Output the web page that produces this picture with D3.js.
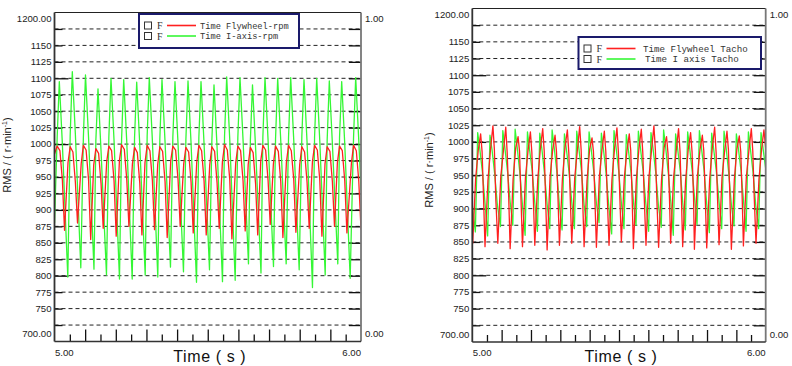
<!DOCTYPE html>
<html><head><meta charset="utf-8">
<script src="https://cdn.jsdelivr.net/npm/d3@7"></script>
<style>body{margin:0;background:#fff}svg{display:block}</style>
</head><body>
<svg id="chart" width="792" height="366"></svg>
<script>
// ---------- data ----------
const yGridValues = [725,750,775,800,825,850,875,900,925,950,975,1000,1025,1050,1075,1100,1125,1150,1175];
const yTickLabels = [750,775,800,825,850,875,900,925,950,975,1000,1025,1050,1075,1100,1125,1150];
const yEndLabels = ["1200.00","700.00"];
const rightEndLabels = ["1.00","0.00"];
const xMajorTicks = [5.1,5.2,5.3,5.4,5.5,5.6,5.7,5.8,5.9];
const xMinorTicks = [5.05,5.15,5.25,5.35,5.45,5.55,5.65,5.75,5.85,5.95];
const xEndLabels = ["5.00","6.00"];
const leftLegendNames = ["Time Flywheel-rpm","Time I-axis-rpm"];
const rightLegendNames = ["Time Flywheel Tacho","Time I axis Tacho"];

// Left panel: I-axis rpm (green)
const leftGreen = [
[5.0000,880],
[5.0087,1010],[5.0157,1095],[5.0257,1000],[5.0434,798],
[5.0511,1012],[5.0581,1110],[5.0681,1015],[5.0858,812],
[5.0941,1008],[5.1011,1105],[5.1111,1010],[5.1288,810],
[5.1349,1005],[5.1419,1084],[5.1519,989],[5.1696,801],
[5.1773,1010],[5.1843,1100],[5.1943,1005],[5.2120,795],
[5.2188,1006],[5.2258,1098],[5.2358,1003],[5.2535,795],
[5.2612,1010],[5.2682,1094],[5.2782,999],[5.2959,801],
[5.3023,1012],[5.3093,1101],[5.3193,1006],[5.3370,798],
[5.3437,1008],[5.3507,1098],[5.3607,1003],[5.3784,813],
[5.3861,1010],[5.3931,1095],[5.4031,1000],[5.4208,806],
[5.4286,1006],[5.4356,1096],[5.4456,1001],[5.4633,790],
[5.4710,1010],[5.4780,1095],[5.4880,1000],[5.5057,809],
[5.5134,1005],[5.5204,1090],[5.5304,995],[5.5481,791],
[5.5548,1012],[5.5618,1102],[5.5718,1007],[5.5895,793],
[5.5982,1010],[5.6052,1101],[5.6152,1006],[5.6329,818],
[5.6390,1005],[5.6460,1090],[5.6560,995],[5.6737,804],
[5.6798,1010],[5.6868,1101],[5.6968,1006],[5.7145,814],
[5.7212,1008],[5.7282,1100],[5.7382,1005],[5.7559,818],
[5.7636,1010],[5.7706,1101],[5.7806,1006],[5.7983,809],
[5.8070,1012],[5.8140,1098],[5.8240,1003],[5.8417,782],
[5.8485,1010],[5.8555,1100],[5.8655,1005],[5.8832,801],
[5.8896,1006],[5.8966,1096],[5.9066,1001],[5.9243,818],
[5.9300,1010],[5.9370,1095],[5.9470,1000],[5.9647,796],
[5.9757,1010],[5.9827,1101],[5.9927,1006],[6.0000,930]
];
// Left panel: Flywheel rpm (red)
const leftRed = [
[5.0000,985],[5.0087,997],[5.0177,990],[5.0257,945],[5.0327,869],
[5.0441,972],[5.0511,996],[5.0601,988],[5.0681,942],[5.0751,880],
[5.0871,970],[5.0941,998],[5.1031,991],[5.1111,946],[5.1181,855],
[5.1279,968],[5.1349,993],[5.1439,986],[5.1519,940],[5.1589,872],
[5.1703,973],[5.1773,997],[5.1863,990],[5.1943,944],[5.2013,860],
[5.2118,975],[5.2188,999],[5.2278,992],[5.2358,946],[5.2428,875],
[5.2542,970],[5.2612,995],[5.2702,987],[5.2782,941],[5.2852,862],
[5.2953,972],[5.3023,998],[5.3113,990],[5.3193,945],[5.3263,870],
[5.3367,969],[5.3437,996],[5.3527,989],[5.3607,943],[5.3677,858],
[5.3791,974],[5.3861,997],[5.3951,991],[5.4031,946],[5.4101,875],
[5.4216,970],[5.4286,995],[5.4376,988],[5.4456,942],[5.4526,865],
[5.4640,972],[5.4710,998],[5.4800,990],[5.4880,944],[5.4950,862],
[5.5064,968],[5.5134,996],[5.5224,989],[5.5304,941],[5.5374,872],
[5.5478,973],[5.5548,999],[5.5638,991],[5.5718,946],[5.5788,856],
[5.5912,971],[5.5982,997],[5.6072,990],[5.6152,944],[5.6222,868],
[5.6320,969],[5.6390,995],[5.6480,987],[5.6560,940],[5.6630,862],
[5.6728,974],[5.6798,998],[5.6888,991],[5.6968,945],[5.7038,878],
[5.7142,970],[5.7212,997],[5.7302,989],[5.7382,943],[5.7452,858],
[5.7566,972],[5.7636,998],[5.7726,990],[5.7806,946],[5.7876,866],
[5.8000,969],[5.8070,996],[5.8160,988],[5.8240,942],[5.8310,872],
[5.8415,973],[5.8485,998],[5.8575,991],[5.8655,945],[5.8725,860],
[5.8826,970],[5.8896,996],[5.8986,989],[5.9066,943],[5.9136,875],
[5.9230,972],[5.9300,997],[5.9390,990],[5.9470,944],[5.9540,865],
[5.9687,971],[5.9757,998],[5.9847,990],[5.9927,944],[6.0000,870]
];
// Right panel: Flywheel Tacho (red)
const rightRed = [
[5.0000,860],
[5.0014,848],[5.0114,945],[5.0204,988],[5.0284,1012],[5.0334,985],[5.0384,915],
[5.0433,843],[5.0533,942],[5.0623,990],[5.0703,1024],[5.0753,988],[5.0803,912],
[5.0870,848],[5.0970,948],[5.1060,986],[5.1140,1022],[5.1190,983],[5.1240,918],
[5.1290,840],[5.1390,944],[5.1480,991],[5.1560,1008],[5.1610,986],[5.1660,914],
[5.1710,843],[5.1810,946],[5.1900,987],[5.1980,1015],[5.2030,984],[5.2080,916],
[5.2130,845],[5.2230,943],[5.2320,990],[5.2400,1020],[5.2450,987],[5.2500,913],
[5.2550,838],[5.2650,947],[5.2740,988],[5.2820,1010],[5.2870,985],[5.2920,917],
[5.2970,845],[5.3070,944],[5.3160,992],[5.3240,1018],[5.3290,983],[5.3340,914],
[5.3390,848],[5.3490,946],[5.3580,987],[5.3660,1023],[5.3710,988],[5.3760,916],
[5.3810,843],[5.3910,942],[5.4000,989],[5.4080,1006],[5.4130,985],[5.4180,912],
[5.4230,842],[5.4330,947],[5.4420,988],[5.4500,1016],[5.4550,986],[5.4600,918],
[5.4660,845],[5.4760,944],[5.4850,991],[5.4930,1021],[5.4980,984],[5.5030,915],
[5.5080,850],[5.5180,946],[5.5270,986],[5.5350,1012],[5.5400,987],[5.5450,913],
[5.5490,840],[5.5590,943],[5.5680,990],[5.5760,1019],[5.5810,985],[5.5860,917],
[5.5920,845],[5.6020,947],[5.6110,988],[5.6190,1024],[5.6240,988],[5.6290,914],
[5.6350,842],[5.6450,944],[5.6540,992],[5.6620,1008],[5.6670,983],[5.6720,916],
[5.6760,848],[5.6860,946],[5.6950,987],[5.7030,1020],[5.7080,986],[5.7130,912],
[5.7170,843],[5.7270,942],[5.7360,989],[5.7440,1014],[5.7490,985],[5.7540,918],
[5.7570,839],[5.7670,947],[5.7760,988],[5.7840,1010],[5.7890,987],[5.7940,915],
[5.7990,841],[5.8090,944],[5.8180,991],[5.8260,1022],[5.8310,984],[5.8360,913],
[5.8410,846],[5.8510,946],[5.8600,986],[5.8680,1016],[5.8730,988],[5.8780,917],
[5.8830,839],[5.8930,943],[5.9020,990],[5.9100,1009],[5.9150,985],[5.9200,914],
[5.9240,844],[5.9340,947],[5.9430,988],[5.9510,1020],[5.9560,986],[5.9610,916],
[5.9670,848],[5.9770,944],[5.9860,989],[5.9940,1018],[6.0000,990]
];
// Right panel: I axis Tacho (green)
const rightGreen = [
[5.0000,905],
[5.0104,865],[5.0184,1014],[5.0254,990],[5.0344,955],[5.0434,908],
[5.0523,859],[5.0603,1010],[5.0673,988],[5.0763,952],[5.0853,906],
[5.0960,873],[5.1040,1017],[5.1110,991],[5.1200,956],[5.1290,910],
[5.1380,875],[5.1460,1019],[5.1530,992],[5.1620,954],[5.1710,905],
[5.1800,860],[5.1880,1015],[5.1950,989],[5.2040,957],[5.2130,909],
[5.2220,866],[5.2300,1013],[5.2370,990],[5.2460,953],[5.2550,907],
[5.2640,870],[5.2720,1018],[5.2790,992],[5.2880,956],[5.2970,904],
[5.3060,868],[5.3140,1012],[5.3210,988],[5.3300,954],[5.3390,910],
[5.3480,870],[5.3560,1016],[5.3630,991],[5.3720,957],[5.3810,906],
[5.3900,873],[5.3980,1015],[5.4050,990],[5.4140,955],[5.4230,908],
[5.4320,879],[5.4400,1013],[5.4470,989],[5.4560,953],[5.4650,905],
[5.4750,862],[5.4830,1017],[5.4900,992],[5.4990,956],[5.5080,909],
[5.5170,870],[5.5250,1011],[5.5320,988],[5.5410,954],[5.5500,907],
[5.5580,875],[5.5660,1016],[5.5730,991],[5.5820,957],[5.5910,910],
[5.6010,866],[5.6090,1014],[5.6160,990],[5.6250,955],[5.6340,906],
[5.6440,872],[5.6520,1018],[5.6590,992],[5.6680,953],[5.6770,908],
[5.6850,860],[5.6930,1012],[5.7000,989],[5.7090,956],[5.7180,905],
[5.7260,868],[5.7340,1015],[5.7410,990],[5.7500,954],[5.7590,909],
[5.7660,876],[5.7740,1017],[5.7810,991],[5.7900,957],[5.7990,907],
[5.8080,864],[5.8160,1013],[5.8230,988],[5.8320,955],[5.8410,910],
[5.8500,870],[5.8580,1016],[5.8650,992],[5.8740,953],[5.8830,906],
[5.8920,874],[5.9000,1012],[5.9070,990],[5.9160,956],[5.9250,908],
[5.9330,866],[5.9410,1015],[5.9480,989],[5.9570,954],[5.9660,905],
[5.9760,870],[5.9840,1014],[5.9910,990],[6.0000,960]
];

// ---------- layout ----------
const panels = [
  {x0:54.5, x1:361, y0:12.5, y1:341.5, red:leftRed, green:leftGreen, titleY:155, titleX:11,
   legend:{x:139, y:14, w:160, h:34, names:leftLegendNames, fs:8.7, tx:[200,200]}},
  {x0:472.3, x1:765.7, y0:8.5, y1:342, red:rightRed, green:rightGreen, titleY:170, titleX:433,
   legend:{x:578.5, y:37, w:182.5, h:32, names:rightLegendNames, fs:9.2, tx:[643,645]}}
];
const RED = "#ff2020", GREEN = "#35f735";
const svg = d3.select("#chart");
const sans = "'Liberation Sans', Arial, sans-serif";

panels.forEach((p, pi) => {
  const x = d3.scaleLinear().domain([5, 6]).range([p.x0, p.x1]);
  const y = d3.scaleLinear().domain([700, 1200]).range([p.y1, p.y0]);
  const g = svg.append("g");

  // dashed grid
  g.selectAll(".grid").data(yGridValues).join("line")
    .attr("x1", p.x0).attr("x2", p.x1)
    .attr("y1", d => y(d)).attr("y2", d => y(d))
    .attr("stroke", "#222").attr("stroke-width", 1).attr("stroke-dasharray", "4,3");

  // left axis ticks (inward)
  const leftAxis = d3.axisLeft(y).tickValues(yGridValues)
    .tickSizeInner(-8).tickSizeOuter(0).tickFormat("");
  const la = g.append("g").attr("transform", `translate(${p.x0},0)`).call(leftAxis);
  la.select(".domain").remove();
  la.selectAll(".tick line").attr("x2", d => d % 100 === 0 ? 14 : 8)
    .attr("stroke", "#111").attr("stroke-width", 1.3);

  // right axis ticks (inward)
  const rightAxis = d3.axisRight(y).tickValues(yGridValues)
    .tickSizeInner(-12).tickSizeOuter(0).tickFormat("");
  const ra = g.append("g").attr("transform", `translate(${p.x1},0)`).call(rightAxis);
  ra.select(".domain").remove();
  ra.selectAll(".tick line").attr("stroke", "#111").attr("stroke-width", 1.3);

  // bottom ticks (inward)
  const bMaj = d3.axisBottom(x).tickValues(xMajorTicks).tickSizeInner(-12).tickSizeOuter(0).tickFormat("");
  const bMin = d3.axisBottom(x).tickValues(xMinorTicks).tickSizeInner(-7).tickSizeOuter(0).tickFormat("");
  [bMaj, bMin].forEach(ax => {
    const a = g.append("g").attr("transform", `translate(0,${p.y1})`).call(ax);
    a.select(".domain").remove();
    a.selectAll(".tick line").attr("stroke", "#111").attr("stroke-width", 1.3);
  });

  // data lines
  const clipId = "clip" + pi;
  svg.append("clipPath").attr("id", clipId).append("rect")
    .attr("x", p.x0).attr("y", p.y0).attr("width", p.x1 - p.x0).attr("height", p.y1 - p.y0);
  const line = d3.line().x(d => x(d[0])).y(d => y(d[1]));
  const dg = g.append("g").attr("clip-path", `url(#${clipId})`);
  dg.append("path").datum(p.green).attr("d", line).attr("fill", "none")
    .attr("stroke", GREEN).attr("stroke-width", 1.3).attr("stroke-linejoin", "round");
  dg.append("path").datum(p.red).attr("d", line).attr("fill", "none")
    .attr("stroke", RED).attr("stroke-width", 1.3).attr("stroke-linejoin", "round");

  // frame
  g.append("line").attr("x1", p.x0).attr("x2", p.x1).attr("y1", p.y0).attr("y2", p.y0)
    .attr("stroke", "#222").attr("stroke-width", 1);
  g.append("line").attr("x1", p.x1).attr("x2", p.x1).attr("y1", p.y0).attr("y2", p.y1)
    .attr("stroke", "#777").attr("stroke-width", 1.8);
  g.append("line").attr("x1", p.x0).attr("x2", p.x1).attr("y1", p.y1).attr("y2", p.y1)
    .attr("stroke", "#333").attr("stroke-width", 1.6);
  g.append("line").attr("x1", p.x0).attr("x2", p.x0).attr("y1", p.y0).attr("y2", p.y1)
    .attr("stroke", "#333").attr("stroke-width", 1.8);

  // y tick labels
  const lbl = g.append("g").attr("font-family", sans).attr("font-size", 9.6).attr("fill", "#222");
  lbl.selectAll(".yl").data(yTickLabels).join("text")
    .attr("x", p.x0 - 3).attr("y", d => y(d)).attr("dy", "0.35em")
    .attr("text-anchor", "end").text(d => d);
  lbl.append("text").attr("x", p.x0 - 3).attr("y", p.y0 + 6).attr("dy", "0.35em")
    .attr("text-anchor", "end").text(yEndLabels[0]);
  lbl.append("text").attr("x", p.x0 - 3).attr("y", p.y1 - 7.5).attr("dy", "0.35em")
    .attr("text-anchor", "end").text(yEndLabels[1]);
  lbl.append("text").attr("x", p.x1 + 4).attr("y", p.y0 + 6).attr("dy", "0.35em")
    .text(rightEndLabels[0]);
  lbl.append("text").attr("x", p.x1 + 4).attr("y", p.y1 - 7.5).attr("dy", "0.35em")
    .text(rightEndLabels[1]);
  lbl.append("text").attr("x", x(5) + 0.5).attr("y", p.y1 + 11).attr("dy", "0.35em")
    .text(xEndLabels[0]);
  lbl.append("text").attr("x", x(6)).attr("y", p.y1 + 11).attr("dy", "0.35em")
    .attr("text-anchor", "end").text(xEndLabels[1]);

  // x title
  g.append("text").attr("x", (p.x0 + p.x1) / 2 + 2).attr("y", 362)
    .attr("text-anchor", "middle").attr("font-family", sans).attr("font-size", 16)
    .attr("letter-spacing", 0.6).attr("fill", "#111").text("Time ( s )");

  // y title
  const yt = g.append("text").attr("transform", `translate(${p.titleX},${p.titleY}) rotate(-90)`)
    .attr("text-anchor", "middle").attr("font-family", sans).attr("font-size", 11).attr("fill", "#222");
  yt.append("tspan").text("RMS / ( r·min");
  yt.append("tspan").attr("font-size", 7).attr("dy", -4).text("-1");
  yt.append("tspan").attr("dy", 4).text(")");

  // legend
  const L = p.legend;
  const lg = g.append("g");
  lg.append("rect").attr("x", L.x).attr("y", L.y).attr("width", L.w).attr("height", L.h)
    .attr("fill", "#fff").attr("stroke", "#1a1a6b").attr("stroke-width", 2);
  const rows = [{c: RED, n: L.names[0]}, {c: GREEN, n: L.names[1]}];
  rows.forEach((r, i) => {
    const cy = L.y + 11.5 + i * 10.5;
    lg.append("rect").attr("x", L.x + 5.5).attr("y", cy - 3.5).attr("width", 7).attr("height", 7)
      .attr("fill", "#fff").attr("stroke", "#333").attr("stroke-width", 1);
    lg.append("text").attr("x", L.x + 18).attr("y", cy).attr("dy", "0.35em")
      .attr("font-family", "'Liberation Serif', serif").attr("font-size", 10).attr("fill", "#333").text("F");
    lg.append("line").attr("x1", L.x + 28).attr("x2", L.x + 57).attr("y1", cy).attr("y2", cy)
      .attr("stroke", r.c).attr("stroke-width", 1.6);
    lg.append("text").attr("x", L.tx[i]).attr("y", cy).attr("dy", "0.35em")
      .attr("font-family", "'Liberation Mono', monospace").attr("font-size", L.fs).attr("fill", "#333").text(r.n);
  });
});
</script>
</body></html>
